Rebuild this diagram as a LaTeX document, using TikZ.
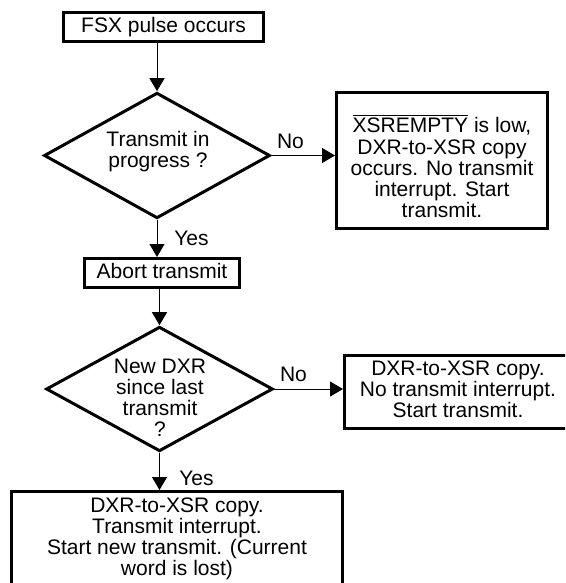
\documentclass[tikz,border=0pt]{standalone}
\usepackage{fontspec}
\setmainfont{Liberation Sans}
\usetikzlibrary{shapes.geometric,arrows.meta}
\newcommand{\myoverline}[1]{\leavevmode\vbox{\hrule height 0.9pt\kern 2.7pt\hbox{#1}}}
\begin{document}
\begin{tikzpicture}[x=1pt,y=-1pt,
  box/.style={draw, line width=3pt, rectangle, inner sep=0pt, font=\fontsize{21}{21}\selectfont, align=center},
  dec/.style={draw, line width=3pt, diamond, inner sep=0pt},
  txt/.style={inner sep=0pt, font=\fontsize{21}{21}\selectfont, align=center},
  conn/.style={line width=1pt, -{Triangle[length=13pt,width=15pt]}},
  lbl/.style={inner sep=0pt, font=\fontsize{21}{21}\selectfont, anchor=base},
  oneline/.style={text height=15.5pt, text depth=4.5pt}
]
\useasboundingbox (0,0) rectangle (565,583);
\clip (0,0) rectangle (565,583);

% boxes and decisions
\node[box, oneline, minimum width=200pt, minimum height=29pt] (fsx) at (163.5,27) {FSX pulse occurs};
\node[dec, minimum width=226pt, minimum height=125.6pt] (d1) at (157,155.5) {};
\node[txt] (d1t) at (158,151.2) {Transmit in\\progress ?};
\node[box, minimum width=211pt, minimum height=136pt] (r1) at (442,160.5) {};
\node[txt, font=\fontsize{21}{21.25}\selectfont] (r1t) at (442,166.3) {\myoverline{XSREMPTY} is low,\\DXR-to-XSR copy\\occurs. No transmit\\interrupt. Start\\transmit.};
\node[box, oneline, minimum width=155pt, minimum height=29pt] (abort) at (162,273) {Abort transmit};
\node[dec, minimum width=226.8pt, minimum height=124.6pt] (d2) at (159.5,389) {};
\node[txt] (d2t) at (160,398) {New DXR\\since last\\transmit\\?};
\node[box, minimum width=227pt, minimum height=73pt] (r2) at (458,392) {};
\node[txt] (r2t) at (458,389.5) {DXR-to-XSR copy.\\No transmit interrupt.\\Start transmit.};
\node[box, minimum width=331pt, minimum height=94.5pt] (bot) at (177,538.75) {DXR-to-XSR copy.\\Transmit interrupt.\\Start new transmit. (Current\\word is lost)};

% labels
\node[lbl] (no1) at (290.5,148) {No};
\node[lbl] (yes1) at (191.5,245) {Yes};
\node[lbl] (no2) at (293.5,381) {No};
\node[lbl] (yes2) at (196.5,485) {Yes};

% connectors
\draw[conn] (fsx.south -| d1.north) -- (d1.north);
\draw[conn] (d1.east) -- (r1.west |- d1.east);
\draw[conn] (d1.south) -- (d1.south |- abort.north);
\draw[conn] (abort.south -| d2.north) -- (d2.north);
\draw[conn] (d2.east) -- (r2.west |- d2.east);
\draw[conn] (d2.south) -- (d2.south |- bot.north);
\end{tikzpicture}
\end{document}
